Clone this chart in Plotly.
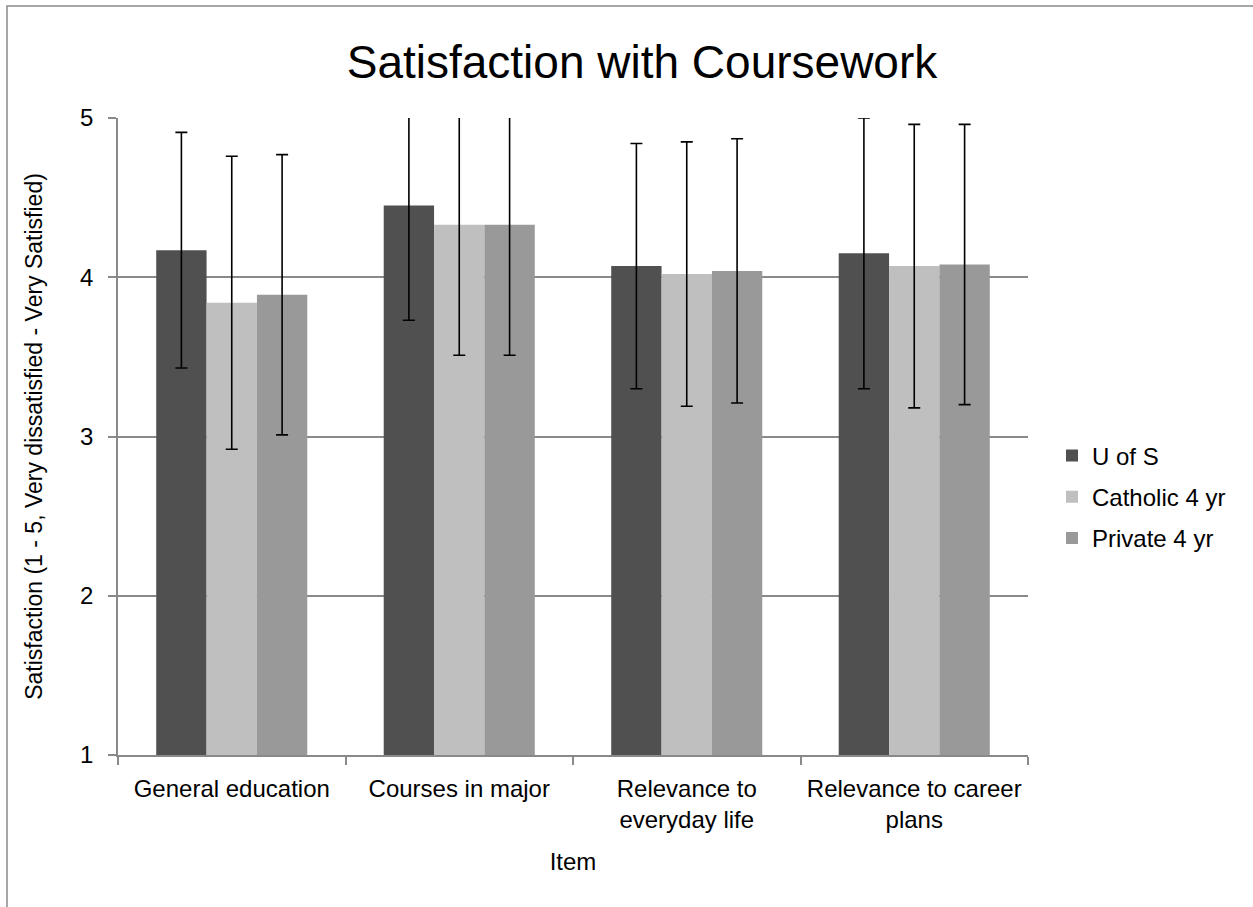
import plotly.graph_objects as go

categories = ["General education", "Courses in major", "Relevance to<br>everyday life", "Relevance to career<br>plans"]
series_names = ["U of S", "Catholic 4 yr", "Private 4 yr"]
u_of_s = [4.17, 4.45, 4.07, 4.15]
u_of_s_err = [0.74, 0.72, 0.77, 0.85]
catholic = [3.84, 4.33, 4.02, 4.07]
catholic_err = [0.92, 0.82, 0.83, 0.89]
private = [3.89, 4.33, 4.04, 4.08]
private_err = [0.88, 0.82, 0.83, 0.88]
y_ticks = [1, 2, 3, 4, 5]

colors = ["#505050", "#bfbfbf", "#999999"]
FONT = "Liberation Sans, Arial, sans-serif"

W, H = 1253, 907
L, R, T, B = 118, 1253 - 1028, 118, 907 - 755
pw, ph = W - L - R, H - T - B

fig = go.Figure()
for name, vals, errs, col in zip(series_names, [u_of_s, catholic, private],
                                 [u_of_s_err, catholic_err, private_err], colors):
    fig.add_trace(go.Bar(
        x=categories, y=vals, name=name, legendgroup=name,
        marker=dict(color=col, line=dict(width=0)),
        error_y=dict(type="data", array=errs, visible=True, color="black", thickness=1.6, width=6),
    ))

fig.update_layout(
    width=W, height=H,
    margin=dict(l=L, r=R, t=T, b=B),
    paper_bgcolor="white", plot_bgcolor="white",
    font=dict(family=FONT, color="black", size=24),
    barmode="group", bargap=0.336, bargroupgap=0,
    title=dict(text="Satisfaction with Coursework", x=642 / W, xref="container", xanchor="center",
               y=1 - 62 / H, yref="container", yanchor="middle",
               font=dict(size=46, family=FONT, color="black")),
    legend=dict(x=(1052 - L) / pw, xanchor="left", y=(755 - 497) / ph, yanchor="middle",
                font=dict(size=24, family=FONT), traceorder="grouped", tracegroupgap=7,
                itemwidth=30, bgcolor="rgba(0,0,0,0)"),
    showlegend=True,
)
fig.update_xaxes(
    showline=True, linecolor="#898989", linewidth=1.5,
    ticks="outside", tickson="boundaries", ticklen=8, tickcolor="#898989", tickwidth=1.5,
    tickfont=dict(size=24, family=FONT), ticklabelstandoff=11,
    title=dict(text="Item", font=dict(size=24, family=FONT), standoff=21),
    showgrid=False,
)
fig.update_yaxes(
    range=[1, 5], tickvals=y_ticks, ticktext=[str(v) for v in y_ticks],
    showline=True, linecolor="#898989", linewidth=1.5,
    ticks="outside", ticklen=8, tickcolor="#898989", tickwidth=1.5,
    showgrid=True, gridcolor="#898989", gridwidth=1.5,
    tickfont=dict(size=24, family=FONT), ticklabelstandoff=10,
    title=dict(text="Satisfaction (1 - 5, Very dissatisfied - Very Satisfied)",
               font=dict(size=23, family=FONT), standoff=31),
    zeroline=False,
)
# outer chart border
fig.add_shape(type="rect", xref="paper", yref="paper",
              x0=(7 - L) / pw, x1=(W + 10 - L) / pw,
              y0=(755 - (H + 10)) / ph, y1=(755 - 6) / ph,
              line=dict(color="#898989", width=1.5), fillcolor="rgba(0,0,0,0)", layer="below")

fig.write_html("out.html", config={"displayModeBar": False},
               post_script="document.body.style.margin='0';document.body.style.overflow='hidden';")
